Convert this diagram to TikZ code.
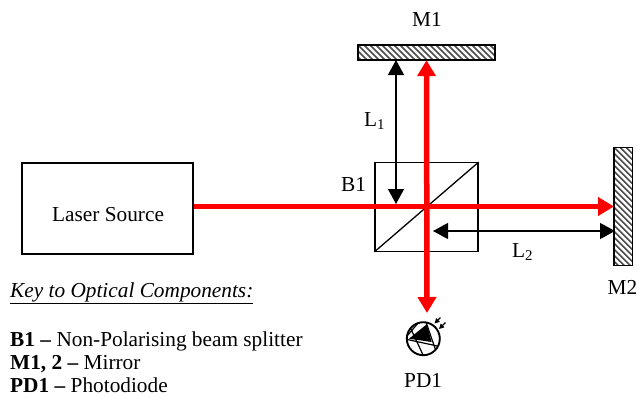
\documentclass[tikz,border=0pt]{standalone}
\usepackage{fontspec}
\setmainfont{Liberation Serif}
\usetikzlibrary{arrows.meta,calc}
\newcommand{\hatchbox}[1]{%
  \begin{scope}
    \clip (#1.south west) rectangle (#1.north east);
    \foreach \k in {-25,...,30}{
      \draw[line width=1.5pt,black!70] ($(#1.north west)+(\k*6,0)$) -- ++(140,140);
    }
  \end{scope}
  \draw[line width=1.5pt] (#1.south west) rectangle (#1.north east);
}
\tikzset{
  x=1pt,y=-1pt,
  txt/.style={font=\fontsize{21.3}{25}\selectfont,inner sep=0pt,anchor=base west},
  boxn/.style={draw,line width=1.3pt,inner sep=0pt},
  mirror/.style={inner sep=0pt},
  redbeam/.style={draw=red,line width=5.5pt},
  redtip/.style={-{Triangle[length=16pt,width=18pt]}},
  dim/.style={draw=black,line width=1.2pt,{Triangle[length=15pt,width=16pt]}-{Triangle[length=15pt,width=16pt]}}
}
\begin{document}
\begin{tikzpicture}
\useasboundingbox (0,0) rectangle (637,397);
\node[boxn,minimum width=171pt,minimum height=91pt] (laser) at (107.5,208.5) {};
\node[txt] (lasertext) at (52,221) {Laser Source};
\node[boxn,minimum width=103pt,minimum height=88.5pt] (bs) at (426.5,207) {};
\draw[line width=1.3pt] (bs.south west) -- (bs.north east);
\node[mirror,minimum width=137pt,minimum height=15pt] (m1) at (426.5,52.5) {};
\node[mirror,minimum width=18pt,minimum height=118pt] (m2) at (623.2,206.5) {};
\hatchbox{m1}
\hatchbox{m2}
% photodiode
\node[circle,draw,line width=1.9pt,minimum size=33pt,inner sep=0pt] (pd) at (423.3,338.7) {};
\begin{scope}
  \clip (pd.center) circle (16pt);
  \draw[line width=1.2pt] (426,322) -- (437,354) (405,339) -- (442,347) (410,327) -- (424,357) (418,323) -- (408,335);
\end{scope}
\fill (426.7,324.3) -- (409,338.7) -- (431.7,342) -- cycle;
\coordinate (pdtop) at (427,313);
\coordinate (pa1) at (440.5,317.5);
\coordinate (pb1) at (434.5,323.5);
\coordinate (pa2) at (445.5,322.5);
\coordinate (pb2) at (439,329);
\draw[line width=1.1pt,-{Triangle[length=5pt,width=5pt]}] (pa1) -- (pb1);
\draw[line width=1.1pt,-{Triangle[length=5pt,width=5pt]}] (pa2) -- (pb2);
% beams
\draw[redbeam,redtip] (laser.east |- m2.west) -- (m2.west);
\draw[redbeam,{Triangle[length=16pt,width=18pt]}-{Triangle[length=16pt,width=18pt]}] (m1.south) -- (pdtop);
% dimension arrows
\coordinate (l1top) at (396,60);
\coordinate (l1bot) at (396,204);
\coordinate (l2l) at (433,231);
\coordinate (l2r) at (615,231);
\draw[dim] (l1top) -- (l1bot);
\draw[dim] (l2l) -- (l2r);
% labels
\node[txt] (tm1) at (412,26) {M1};
\node[txt] (tl1) at (364,126) {L\textsubscript{1}};
\node[txt] (tb1) at (341,191) {B1};
\node[txt] (tl2) at (512,257) {L\textsubscript{2}};
\node[txt] (tm2) at (607.5,294) {M2};
\node[txt] (tpd) at (404,387) {PD1};
\node[txt] (k0) at (10,297) {\itshape\underline{Key to Optical Components:}};
\node[txt] (k1) at (10,346) {\textbf{B1 –} Non-Polarising beam splitter};
\node[txt] (k2) at (10,369.5) {\textbf{M1, 2 –} Mirror};
\node[txt] (k3) at (10,392.5) {\textbf{PD1 –} Photodiode};
\end{tikzpicture}
\end{document}
